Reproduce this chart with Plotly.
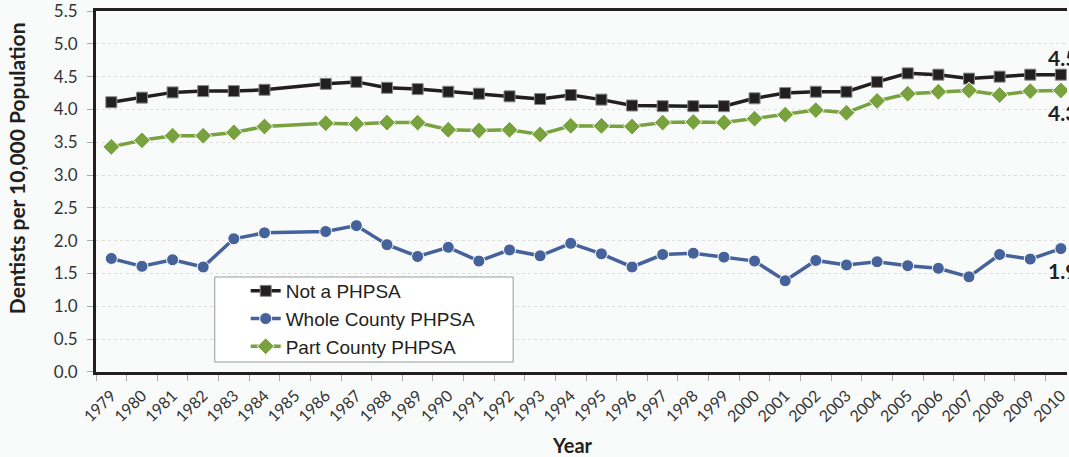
import plotly.graph_objects as go

years = [str(y) for y in range(1979, 2011)]

not_phpsa = [4.11, 4.18, 4.26, 4.28, 4.28, 4.30, None, 4.39, 4.42, 4.33,
             4.31, 4.27, 4.24, 4.20, 4.16, 4.22, 4.15, 4.06, 4.05, 4.05,
             4.05, 4.17, 4.25, 4.27, 4.27, 4.42, 4.55, 4.53, 4.47, 4.50,
             4.53, 4.53]
whole_county = [1.73, 1.61, 1.71, 1.60, 2.03, 2.12, None, 2.14, 2.23, 1.94,
                1.76, 1.90, 1.69, 1.86, 1.77, 1.96, 1.80, 1.60, 1.79, 1.81,
                1.75, 1.69, 1.39, 1.70, 1.63, 1.68, 1.62, 1.58, 1.45, 1.79,
                1.72, 1.88]
part_county = [3.43, 3.53, 3.60, 3.60, 3.65, 3.74, None, 3.79, 3.78, 3.80,
               3.80, 3.69, 3.68, 3.69, 3.62, 3.75, 3.75, 3.74, 3.80, 3.81,
               3.80, 3.86, 3.92, 3.99, 3.95, 4.13, 4.24, 4.27, 4.29, 4.22,
               4.28, 4.29]

end_labels = ["4.5", "4.3", "1.9"]
end_label_y = [4.79, 3.96, 1.55]

y_ticks = [i * 0.5 for i in range(12)]

fig = go.Figure()
fig.add_trace(go.Scatter(
    x=years, y=not_phpsa, name="Not a PHPSA", mode="lines+markers",
    connectgaps=True,
    line=dict(color="#231f20", width=3.5),
    marker=dict(symbol="square", size=11, color="#231f20",
                line=dict(color="#888888", width=1))))
fig.add_trace(go.Scatter(
    x=years, y=whole_county, name="Whole County PHPSA", mode="lines+markers",
    connectgaps=True,
    line=dict(color="#46629a", width=3.5),
    marker=dict(symbol="circle", size=12, color="#46629a",
                line=dict(color="#ffffff", width=1))))
fig.add_trace(go.Scatter(
    x=years, y=part_county, name="Part County PHPSA", mode="lines+markers",
    connectgaps=True,
    line=dict(color="#77a23e", width=3.5),
    marker=dict(symbol="diamond", size=13, color="#77a23e",
                line=dict(color="#ffffff", width=1))))

for txt, yv in zip(end_labels, end_label_y):
    fig.add_annotation(x=30.52, y=yv, text="<b>" + txt + "</b>",
                       xref="x", yref="y", xanchor="left", yanchor="middle",
                       showarrow=False,
                       font=dict(family="Lato", size=21, color="#231f20"))

# axis titles placed as annotations to match the reference positions
fig.add_annotation(x=-79 / 973, y=(372 - 168) / 361, xref="paper", yref="paper",
                   text="<b>Dentists per 10,000 Population</b>", textangle=-90,
                   showarrow=False, xanchor="center", yanchor="middle",
                   font=dict(family="Lato", size=21, color="#231f20"))
fig.add_annotation(x=(573 - 96) / 973, y=-(445 - 372) / 361, xref="paper", yref="paper",
                   text="<b>Year</b>", showarrow=False, xanchor="center", yanchor="middle",
                   font=dict(family="Lato", size=20, color="#231f20"))

# legend box (drawn as a rectangle so its size matches the reference)
fig.add_shape(type="rect", xref="paper", yref="paper",
              x0=(215 - 96) / 973, x1=(514 - 96) / 973,
              y0=(372 - 362) / 361, y1=(372 - 277) / 361,
              fillcolor="#ffffff", line=dict(color="#999999", width=1),
              layer="above")

fig.update_layout(
    width=1069, height=457,
    margin=dict(l=96, r=0, t=11, b=85),
    paper_bgcolor="#f9fbfb", plot_bgcolor="#f9fbfb",
    font=dict(family="Lato", size=15, color="#333333"),
    showlegend=True,
    legend=dict(x=(246 - 96) / 973, y=(372 - 272) / 361, xanchor="left", yanchor="top",
                bgcolor="rgba(0,0,0,0)", borderwidth=0,
                font=dict(family="Liberation Sans", size=19, color="#231f20"),
                itemwidth=30, tracegroupgap=0),
)
fig.update_xaxes(
    type="category", range=[-0.5, 31.2],
    tickangle=-45, tickson="boundaries", ticks="outside", ticklen=6,
    tickcolor="#aaaaaa", ticklabelstandoff=5,
    showline=True, linecolor="#231f20", linewidth=3, mirror=True,
    showgrid=False,
    tickfont=dict(family="Lato", size=16, color="#333333"),
)
fig.update_yaxes(
    range=[-0.0001, 5.5001], tickvals=y_ticks, tickformat=".1f",
    ticks="outside", ticklen=6, tickcolor="#aaaaaa", ticklabelstandoff=6,
    ticklabeloverflow="allow",
    showline=True, linecolor="#231f20", linewidth=3,
    showgrid=True, gridcolor="#dedede", griddash="dot", gridwidth=1,
    zeroline=False,
    tickfont=dict(family="Lato", size=17, color="#333333"),
)

fig.write_html("out.html", config={"displayModeBar": False},
               post_script="document.body.style.margin='0';")
